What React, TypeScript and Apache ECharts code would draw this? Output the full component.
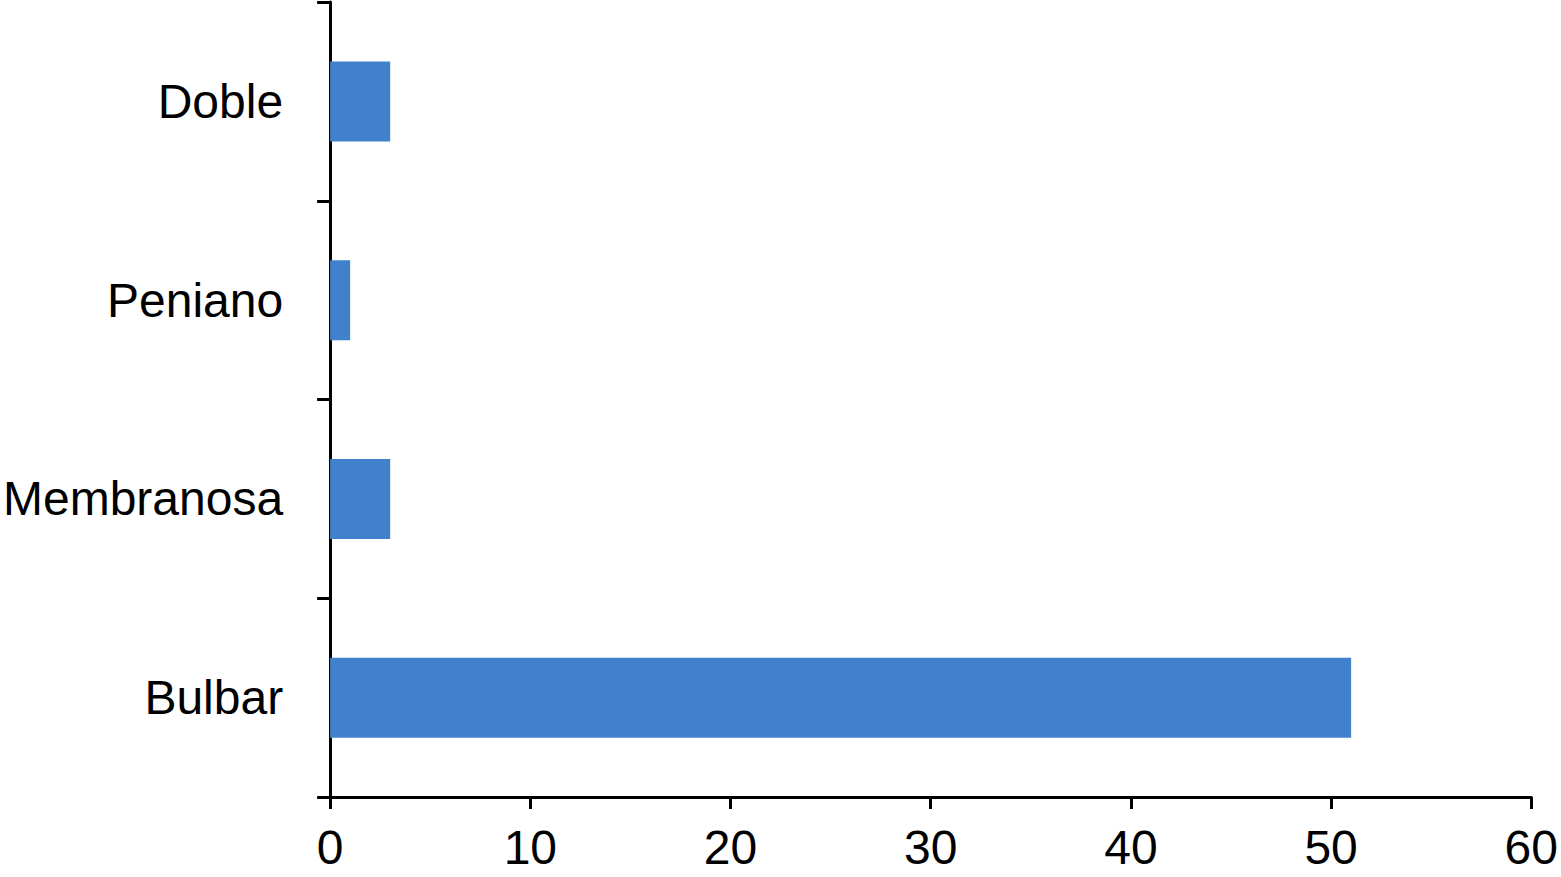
import React, { useEffect, useRef } from "react";
import * as echarts from "echarts";

const categories = ["Bulbar", "Membranosa", "Peniano", "Doble"];
const values = [51, 3, 1, 3];
const xTicks = { min: 0, max: 60, interval: 10 };

export default function App() {
  const ref = useRef<HTMLDivElement>(null);
  useEffect(() => {
    if (!ref.current) return;
    const chart = echarts.init(ref.current, null, { renderer: "svg" });
    const font = "'Liberation Sans', Arial, Helvetica, sans-serif";
    chart.setOption({
      animation: false,
      backgroundColor: "#ffffff",
      grid: { left: 330, right: 23, top: 2, bottom: 80, containLabel: false },
      xAxis: {
        type: "value",
        min: xTicks.min,
        max: xTicks.max,
        interval: xTicks.interval,
        splitLine: { show: false },
        axisLine: { show: true, lineStyle: { color: "#000", width: 3 } },
        axisTick: { show: true, length: 12, lineStyle: { color: "#000", width: 3 } },
        axisLabel: { color: "#000", fontSize: 48, fontFamily: font, margin: 26 },
      },
      yAxis: {
        type: "category",
        data: categories,
        axisLine: { show: true, lineStyle: { color: "#000", width: 3 } },
        axisTick: { show: true, length: 13, lineStyle: { color: "#000", width: 3 } },
        axisLabel: { color: "#000", fontSize: 48, fontFamily: font, margin: 47 },
      },
      series: [
        {
          type: "bar",
          data: values,
          barWidth: 80,
          itemStyle: { color: "#4181CC" },
        },
      ],
    });
    return () => chart.dispose();
  }, []);
  return (
    <div
      ref={ref}
      style={{ position: "absolute", left: 0, top: 0, width: 1561, height: 877 }}
    />
  );
}
